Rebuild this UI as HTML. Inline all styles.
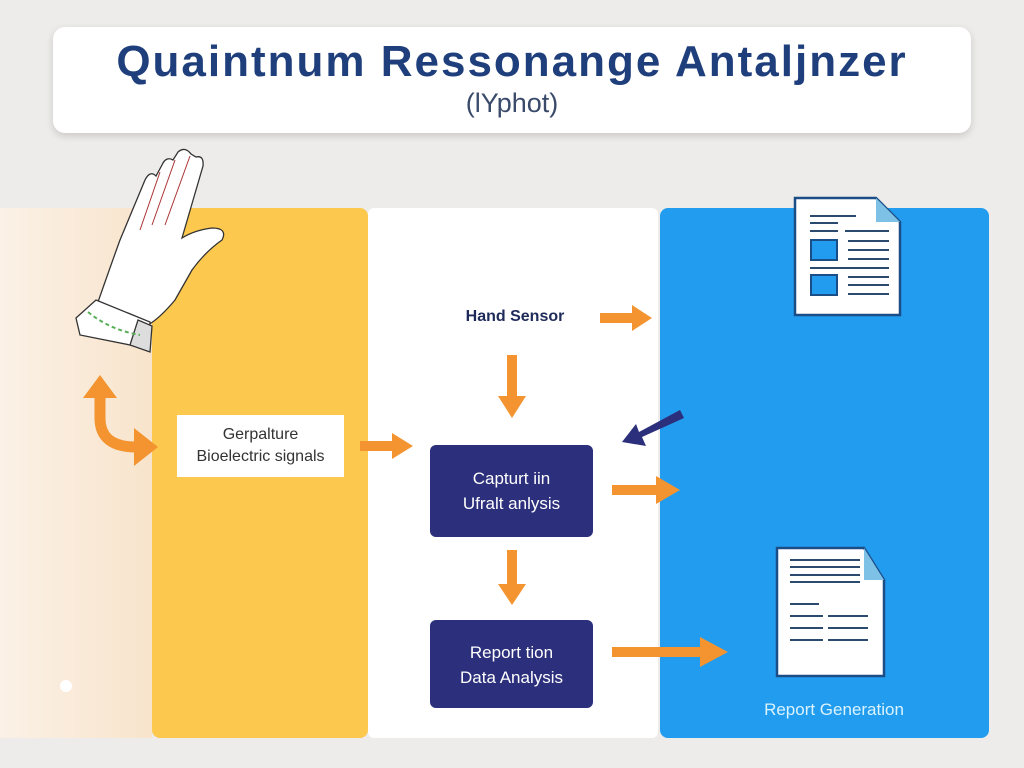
<!DOCTYPE html>
<html><head><meta charset="utf-8"><style>
body{margin:0;width:1024px;height:768px;background:#edecea;position:relative;overflow:hidden;font-family:"Liberation Sans",sans-serif}
.a{position:absolute}
</style></head><body>
<div class="a" style="left:53px;top:27px;width:918px;height:106px;background:#fff;border-radius:12px;box-shadow:0 3px 8px rgba(0,0,0,.15)"></div>
<div class="a" style="left:53px;top:37px;width:918px;text-align:center;font-size:44px;font-weight:bold;color:#1f3f7c;letter-spacing:2px">Quaintnum Ressonange Antaljnzer</div>
<div class="a" style="left:53px;top:88px;width:918px;text-align:center;font-size:27px;color:#3a4a6a">(lYphot)</div>
<div class="a" style="left:0;top:208px;width:152px;height:530px;background:linear-gradient(90deg,#fbf1e6,#f8e4cc)"></div>
<div class="a" style="left:152px;top:208px;width:216px;height:530px;background:#fcc84e;border-radius:8px"></div>
<div class="a" style="left:368px;top:208px;width:290px;height:530px;background:#fff;border-radius:6px"></div>
<div class="a" style="left:660px;top:208px;width:329px;height:530px;background:#229cef;border-radius:8px"></div>
<div class="a" style="left:177px;top:415px;width:167px;height:62px;background:#fff;text-align:center;font-size:16px;line-height:22px;color:#333;padding-top:9px;box-sizing:border-box">Gerpalture<br>Bioelectric signals</div>
<div class="a" style="left:430px;top:308px;width:170px;text-align:center;font-size:16px;font-weight:bold;color:#1e2a5a">Hand Sensor</div>
<div class="a" style="left:430px;top:445px;width:163px;height:92px;background:#2c2f7b;border-radius:6px;color:#fff;text-align:center;font-size:17px;line-height:25px;padding-top:21px;box-sizing:border-box">Capturt iin<br>Ufralt anlysis</div>
<div class="a" style="left:430px;top:620px;width:163px;height:88px;background:#2c2f7b;border-radius:6px;color:#fff;text-align:center;font-size:17px;line-height:25px;padding-top:20px;box-sizing:border-box">Report tion<br>Data Analysis</div>
<div class="a" style="left:660px;top:700px;width:348px;text-align:center;font-size:17px;color:#d9f3ff">Report Generation</div>
<svg class="a" style="left:0;top:0" width="1024" height="768">
<g fill="#f39430">
<polygon points="600,313 632,313 632,305 652,318 632,331 632,323 600,323"/>
<polygon points="507,355 517,355 517,396 526,396 512,418 498,396 507,396"/>
<polygon points="360,441 392,441 392,433 413,446 392,459 392,451 360,451"/>
<polygon points="612,485 656,485 656,476 680,490 656,504 656,495 612,495"/>
<polygon points="507,550 517,550 517,584 526,584 512,605 498,584 507,584"/>
<polygon points="612,647 700,647 700,637 728,652 700,667 700,657 612,657"/>
<polygon points="100,375 117,398 83,398"/>
<polygon points="134,428 158,447 134,466"/>
</g>
<path d="M100,396 V418 Q100,447 136,447" stroke="#f39430" stroke-width="11" fill="none"/>
<polygon points="680,410 684,418 642,437 646,446 622,442 636,424 639,432" fill="#2c2f7b"/>
<g stroke="#1b4d87" stroke-width="2.5" fill="#fff">
<path d="M795,198 H876 L900,222 V315 H795 Z"/>
<path d="M777,548 H864 L884,580 V676 H777 Z"/>
</g>
<polygon points="876,198 900,222 876,222" fill="#7ec1e6"/>
<polygon points="864,548 884,580 864,580" fill="#7ec1e6"/>
<g stroke="#2a4a6e" stroke-width="2">
<line x1="810" y1="216" x2="856" y2="216"/><line x1="810" y1="223" x2="838" y2="223"/><line x1="810" y1="231" x2="838" y2="231"/><line x1="845" y1="231" x2="889" y2="231"/>
<line x1="848" y1="241" x2="889" y2="241"/><line x1="848" y1="250" x2="889" y2="250"/><line x1="848" y1="259" x2="889" y2="259"/><line x1="810" y1="268" x2="889" y2="268"/>
<line x1="848" y1="277" x2="889" y2="277"/><line x1="848" y1="285" x2="889" y2="285"/><line x1="848" y1="294" x2="889" y2="294"/>
<line x1="790" y1="560" x2="860" y2="560"/><line x1="790" y1="567" x2="860" y2="567"/><line x1="790" y1="575" x2="860" y2="575"/><line x1="790" y1="582" x2="860" y2="582"/>
<line x1="790" y1="604" x2="819" y2="604"/><line x1="790" y1="616" x2="823" y2="616"/><line x1="828" y1="616" x2="868" y2="616"/>
<line x1="790" y1="628" x2="823" y2="628"/><line x1="828" y1="628" x2="868" y2="628"/><line x1="790" y1="640" x2="823" y2="640"/><line x1="828" y1="640" x2="868" y2="640"/>
</g>
<g stroke="#1b4d87" stroke-width="2" fill="#229cef">
<rect x="811" y="240" width="26" height="20"/><rect x="811" y="275" width="26" height="20"/>
</g>
<g fill="#fff" stroke="#333" stroke-width="1.3">
<path d="M98,302 Q112,262 120,240 L145,180 Q150,170 156,176 L162,165 Q166,156 173,160 L178,152 Q185,146 191,154 L196,157 Q204,155 203,166 L182,238 Q195,230 212,228 Q228,228 222,240 Q205,252 192,270 L175,300 Q160,318 148,325 Z"/>
<path d="M76,318 L96,300 L150,322 L148,350 L130,345 L80,335 Z"/>
<path d="M130,345 L138,320 L152,326 L150,352 Z" fill="#ddd"/>
</g>
<g stroke="#a33" stroke-width="1" fill="none">
<path d="M160,172 L140,230"/><path d="M175,160 L152,225"/><path d="M190,156 L165,225"/>
</g>
<path d="M88,312 Q110,330 140,335" stroke="#5ab05a" stroke-width="2" stroke-dasharray="4,3" fill="none"/>
<circle cx="66" cy="686" r="6" fill="#fff"/>
</svg>
</body></html>
